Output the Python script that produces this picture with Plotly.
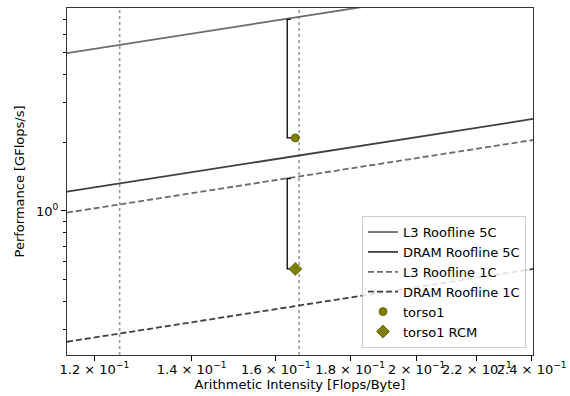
import numpy as np
import plotly.graph_objects as go

# axis limits (data units)
x_lim = [0.1149, 0.2405]
y_lim = [0.2317, 7.85]

# roofline end values read at the x limits
roof_x = [0.1149, 0.2405]
l3_5c = [4.96, 10.4]
dram_5c = [1.216, 2.545]
l3_1c = [0.983, 2.056]
dram_1c = [0.265, 0.555]

# kernel points
torso_ai = [0.1650]
torso_perf = [2.10]
torso_rcm_perf = [0.555]

# bracket connectors (roof -> measured)
br1_x = [0.1638, 0.1629, 0.1629, 0.1650]
br1_y = [7.0, 7.0, 2.10, 2.10]
br2_x = [0.1638, 0.1629, 0.1629, 0.1650]
br2_y = [1.39, 1.39, 0.555, 0.555]

# dotted vertical markers
vlines = [0.1249, 0.1660]

x_tickvals = [0.12, 0.14, 0.16, 0.18, 0.20, 0.22, 0.24]
x_ticktext = ["1.2 × 10<sup>−1</sup>", "1.4 × 10<sup>−1</sup>", "1.6 × 10<sup>−1</sup>",
              "1.8 × 10<sup>−1</sup>", "2 × 10<sup>−1</sup>", "2.2 × 10<sup>−1</sup>",
              "2.4 × 10<sup>−1</sup>"]
y_tickvals = [1]
y_ticktext = ["10<sup>0</sup>"]
y_minor = [0.3, 0.4, 0.5, 0.6, 0.7, 0.8, 0.9, 2, 3, 4, 5, 6, 7]

L3C = "#6b6b6b"
DRC = "#404040"
OLIVE = "#808000"
FS = 13

fig = go.Figure()

for xv in vlines:
    fig.add_trace(go.Scatter(x=[xv, xv], y=y_lim, mode="lines",
                             line=dict(color="#999999", width=1.6, dash="dot"),
                             showlegend=False, hoverinfo="skip"))

fig.add_trace(go.Scatter(x=roof_x, y=l3_5c, mode="lines", name="L3 Roofline 5C",
                         line=dict(color=L3C, width=1.8)))
fig.add_trace(go.Scatter(x=roof_x, y=dram_5c, mode="lines", name="DRAM Roofline 5C",
                         line=dict(color=DRC, width=1.8)))
fig.add_trace(go.Scatter(x=roof_x, y=l3_1c, mode="lines", name="L3 Roofline 1C",
                         line=dict(color=L3C, width=1.8, dash="6px,3px")))
fig.add_trace(go.Scatter(x=roof_x, y=dram_1c, mode="lines", name="DRAM Roofline 1C",
                         line=dict(color=DRC, width=1.8, dash="6px,3px")))

fig.add_trace(go.Scatter(x=br1_x, y=br1_y, mode="lines", line=dict(color="black", width=1.3),
                         showlegend=False, hoverinfo="skip"))
fig.add_trace(go.Scatter(x=br2_x, y=br2_y, mode="lines", line=dict(color="black", width=1.3),
                         showlegend=False, hoverinfo="skip"))

fig.add_trace(go.Scatter(x=torso_ai, y=torso_perf, mode="markers", name="torso1",
                         marker=dict(symbol="circle", size=8, color=OLIVE,
                                     line=dict(color="#5a5a00", width=0.8))))
fig.add_trace(go.Scatter(x=torso_ai, y=torso_rcm_perf, mode="markers", name="torso1 RCM",
                         marker=dict(symbol="diamond", size=10, color=OLIVE,
                                     line=dict(color="#5a5a00", width=0.8))))

# trace on overlay axis carrying the minor ticks
fig.add_trace(go.Scatter(x=x_lim, y=y_lim, mode="markers", marker=dict(size=1, opacity=0),
                         yaxis="y2", showlegend=False, hoverinfo="skip"))

fig.update_layout(
    width=570, height=396,
    margin=dict(l=67, r=37, t=8, b=41),
    plot_bgcolor="white", paper_bgcolor="white",
    font=dict(family="DejaVu Sans", size=FS, color="black"),
    legend=dict(x=0.985, y=0.02, xanchor="right", yanchor="bottom",
                bgcolor="rgba(255,255,255,0.85)", bordercolor="#cccccc", borderwidth=1,
                font=dict(size=FS), tracegroupgap=0, itemwidth=30),
    xaxis=dict(type="log", range=[np.log10(x_lim[0]), np.log10(x_lim[1])],
               tickmode="array", tickvals=x_tickvals, ticktext=x_ticktext,
               tickangle=0, automargin=False, ticklabelstandoff=-3,
               ticks="outside", ticklen=5, tickcolor="black", showgrid=False,
               showline=True, linecolor="#333333", linewidth=1, mirror=True,
               zeroline=False, tickfont=dict(size=FS),
               title=dict(text="Arithmetic Intensity [Flops/Byte]", standoff=1,
                          font=dict(size=FS))),
    yaxis=dict(type="log", range=[np.log10(y_lim[0]), np.log10(y_lim[1])],
               tickmode="array", tickvals=y_tickvals, ticktext=y_ticktext,
               automargin=False,
               ticks="outside", ticklen=5, tickcolor="black", showgrid=False,
               showline=True, linecolor="#333333", linewidth=1, mirror=True,
               zeroline=False, tickfont=dict(size=FS),
               title=dict(text="Performance [GFlops/s]", standoff=8,
                          font=dict(size=FS))),
    yaxis2=dict(type="log", range=[np.log10(y_lim[0]), np.log10(y_lim[1])],
                overlaying="y", side="left", tickmode="array", tickvals=y_minor,
                showticklabels=False, ticks="outside", ticklen=3, tickwidth=1,
                tickcolor="black", showgrid=False, showline=False, zeroline=False,
                automargin=False, anchor="x"),
)

fig.write_html("out.html")
